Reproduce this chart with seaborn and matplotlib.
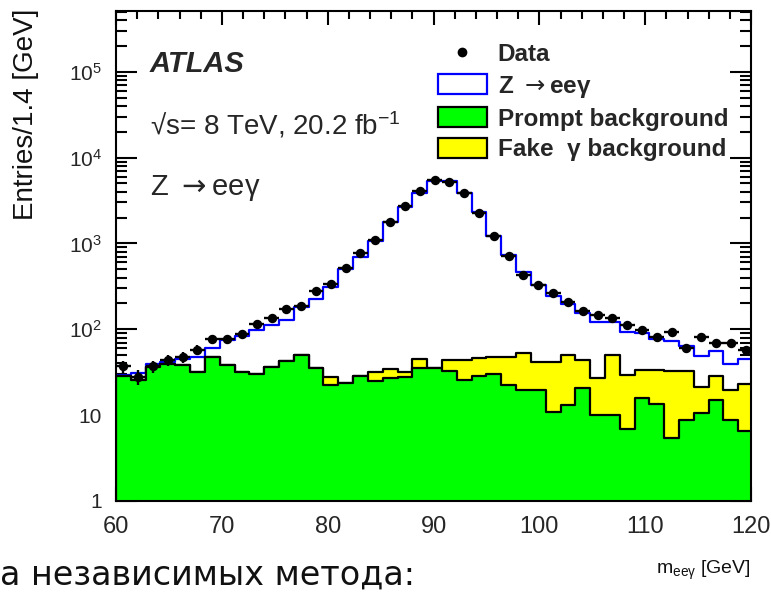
import numpy as np
import pandas as pd
import matplotlib
matplotlib.use("Agg")
import matplotlib.pyplot as plt
from matplotlib import font_manager
from matplotlib.ticker import MultipleLocator, LogLocator, FuncFormatter, NullFormatter
from matplotlib.patches import Patch
from matplotlib.lines import Line2D
import seaborn as sns

# ---- binning: 1.4 GeV bins starting at 60 GeV ----
bin_start = 60.0
bin_width = 1.4
n_bins = 43

# ---- observed events per bin ----
data_counts = [37, 28, 37, 44, 47, 58, 77, 77, 88, 116, 135, 173, 187, 282, 336,
               515, 775, 1110, 1800, 2740, 4030, 5510, 5180, 3920, 2250, 1230,
               716, 430, 329, 263, 210, 164, 147, 137, 112, 98, 81, 92, 60, 82,
               69, 69, 57]

# ---- Z -> ee gamma signal prediction ----
z_signal = [0.4, 5.1, 2.8, 2.5, 6.5, 16, 12.7, 36.5, 52, 66.8, 75.3, 86, 133.7,
            188.8, 286.9, 477, 674, 1049, 1765, 2658, 3872, 5235, 5226, 3873,
            2309, 1179, 688, 418, 287, 203, 148, 110, 93, 70, 65, 56, 43, 40,
            31, 28, 28, 19.5, 22]

# ---- prompt background ----
prompt_bkg = [28.6, 25.7, 36.7, 39.5, 38.5, 32, 47.3, 38.5, 32, 30.2, 36.7, 43,
              50.3, 35.2, 22.7, 23.9, 28.6, 25.2, 26.9, 28.1, 35.2, 35, 32.5,
              25.7, 28.8, 30.5, 22.5, 19.7, 19.7, 11, 13.2, 20.6, 10, 10, 6.85,
              15.8, 13.5, 5.4, 8.8, 10.7, 14.9, 8.8, 6.5]

# ---- fake photon background ----
fake_bkg = [0, 0, 0, 0, 0, 0, 0, 0, 0, 0, 0, 0, 0, 0, 5.4, 0, 0, 6.9, 7.6, 4.0,
            9.6, 0, 11.9, 18.7, 17.6, 17.5, 25.5, 32.9, 22.3, 31, 37.1, 23.8,
            17.2, 40.3, 22.25, 17.8, 20.1, 27, 23.6, 10.3, 13.3, 10.7, 16.6]

edges = bin_start + bin_width * np.arange(n_bins + 1)
centers = edges[:-1] + bin_width / 2

df = pd.DataFrame({
    "m": centers,
    "data": np.array(data_counts, dtype=float),
    "prompt": prompt_bkg,
    "fake": fake_bkg,
    "z": z_signal,
})
df["bkg_stack"] = df["prompt"] + df["fake"]
df["total"] = df["bkg_stack"] + df["z"]

sns.set_style("ticks")
available = {f.name for f in font_manager.fontManager.ttflist}
sans = "Liberation Sans" if "Liberation Sans" in available else "DejaVu Sans"
plt.rcParams["font.family"] = [sans, "DejaVu Sans"]
plt.rcParams["mathtext.default"] = "regular"

W, H = 771, 592
fig = plt.figure(figsize=(W / 100, H / 100), dpi=100)
ax = fig.add_axes([116 / W, 91 / H, 635 / W, 490 / H])


def fx(px):
    return px / W


def fy(py):
    return 1 - py / H


# stacked histograms: total (signal on top), then backgrounds over it
common = dict(x="m", bins=edges.tolist(), element="step", fill=True, alpha=1,
              linewidth=1.6, ax=ax, legend=False)
sns.histplot(df, weights="total", color="white", edgecolor="#0000ff", **common)
sns.histplot(df, weights="bkg_stack", color="#ffff00", edgecolor="black", **common)
sns.histplot(df, weights="prompt", color="#00ff00", edgecolor="black", **common)

# data with Poisson errors and bin-width horizontal bars
ax.errorbar(df["m"], df["data"], xerr=bin_width / 2, yerr=np.sqrt(df["data"]),
            fmt="none", ecolor="black", elinewidth=1.7, capsize=0, zorder=5)
sns.scatterplot(data=df, x="m", y="data", color="black", s=46,
                edgecolor="black", linewidth=0, zorder=6, ax=ax, legend=False)

ax.set_yscale("log")
ax.set_xlim(60, 120)
ax.set_ylim(1, 5.1e5)

ax.xaxis.set_major_locator(MultipleLocator(10))
ax.xaxis.set_minor_locator(MultipleLocator(2))
ax.yaxis.set_major_locator(LogLocator(base=10, numticks=12))
ax.yaxis.set_minor_locator(LogLocator(base=10, subs=np.arange(2, 10), numticks=40))
ax.yaxis.set_minor_formatter(NullFormatter())


def log_label(v, pos):
    e = int(round(np.log10(v)))
    if e == 0:
        return "1"
    if e == 1:
        return "10"
    return r"$\mathregular{10^{%d}}$" % e


ax.yaxis.set_major_formatter(FuncFormatter(log_label))

ax.tick_params(which="both", direction="in", top=True, right=True,
               width=1.5, color="black")
ax.tick_params(axis="x", which="major", length=10, labelsize=17, pad=11)
ax.tick_params(axis="x", which="minor", length=5.5)
ax.tick_params(axis="y", which="major", length=15, labelsize=15, pad=10)
ax.tick_params(axis="y", which="minor", length=8)
for s in ax.spines.values():
    s.set_linewidth(1.5)
    s.set_color("black")

ax.set_xlabel("")
ax.set_ylabel("")

# axis titles
fig.text(fx(26), fy(9), "Entries/1.4 [GeV]", rotation=90, ha="center",
         va="top", fontsize=20, color="#111111")
fig.text(fx(751), fy(574), "m$_{ee\\gamma}$ [GeV]", ha="right",
         va="baseline", fontsize=14, color="#111111")

# experiment labels
arrow = "$\\mathsf{\\rightarrow}$"
fig.text(fx(150), fy(72), "ATLAS", fontsize=21, fontweight="bold",
         fontstyle="italic", ha="left", va="baseline")
fig.text(fx(150), fy(135), "\u221as= 8 TeV, 20.2 fb$^{-1}$", fontsize=20,
         ha="left", va="baseline")
fig.text(fx(150), fy(195), "Z " + arrow + "ee\u03b3", fontsize=21,
         ha="left", va="baseline")

# legend
handles = [
    Line2D([], [], marker="o", linestyle="none", color="black", markersize=6),
    Patch(facecolor="white", edgecolor="#0000ff", linewidth=1.6),
    Patch(facecolor="#00ff00", edgecolor="black", linewidth=1.6),
    Patch(facecolor="#ffff00", edgecolor="black", linewidth=1.6),
]
labels = ["Data", "Z " + arrow + "ee\u03b3", "Prompt background",
          "Fake  \u03b3 background"]
fig.legend(handles, labels, loc="upper left",
           bbox_to_anchor=(fx(438), fy(43)), frameon=False,
           prop={"weight": "bold", "size": 17.5}, handlelength=2.0,
           handleheight=0.9, handletextpad=0.45, labelspacing=0.3,
           borderpad=0, borderaxespad=0)

# slide caption running along the bottom edge
fig.text(fx(0), fy(585), "а независимых метода:", fontsize=24,
         family=["DejaVu Sans"], ha="left", va="baseline", color="#111111")

fig.savefig("out.png", dpi=100)
